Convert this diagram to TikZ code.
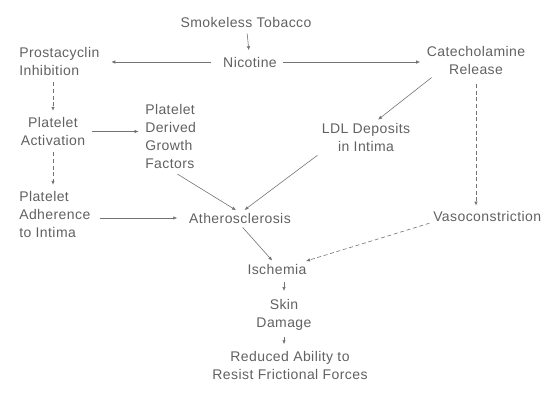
\documentclass[tikz,border=0pt]{standalone}
\usepackage{fontspec}
\setsansfont[LetterSpace=3]{Liberation Sans}
\usepackage{xcolor}
\usetikzlibrary{arrows.meta}

\tikzset{
  txt/.style={inner sep=0.75pt, text=black!62, font=\sffamily\fontsize{10.5}{13.5}\selectfont},
  link/.style={draw=black!55, line width=0.45pt, -{Latex[length=3pt,width=2.6pt]}, shorten <=4pt, shorten >=4pt},
  dlink/.style={link, densely dashed}
}

\begin{document}
\begin{tikzpicture}[x=0.75pt,y=0.75pt,yscale=-1,xscale=1]
        \useasboundingbox (0,0) rectangle (542,401);
        
        % Text Node
        \draw (246,22) node [txt] (smoke) {Smokeless Tobacco};
        % Text Node
        \draw (250,62) node [txt] (nic) {Nicotine};
        % Text Node
        \draw (18,61.5) node [anchor=west][txt][align=left] (prost) {Prostacyclin\\Inhibition};
        % Text Node
        \draw (476,60.5) node [txt][align=center] (cat) {Catecholamine\\Release};
        % Text Node
        \draw (53,131.5) node [txt][align=center] (act) {Platelet\\Activation};
        % Text Node
        \draw (144,136.5) node [anchor=west][txt][align=left] (pdgf) {Platelet\\Derived\\Growth\\Factors};
        % Text Node
        \draw (366,137.5) node [txt][align=center] (ldl) {LDL Deposits\\in Intima};
        % Text Node
        \draw (18,214.5) node [anchor=west][txt][align=left] (adh) {Platelet\\Adherence\\to Intima};
        % Text Node
        \draw (240,218) node [txt] (ath) {Atherosclerosis};
        % Text Node
        \draw (432,216) node [anchor=west][txt] (vaso) {Vasoconstriction};
        % Text Node
        \draw (277,269) node [txt] (isch) {Ischemia};
        % Text Node
        \draw (284,314.5) node [txt][align=center] (skin) {Skin\\Damage};
        % Text Node
        \draw (290,365) node [txt][align=center] (red) {Reduced Ability to\\Resist Frictional Forces};
        
        %Straight Lines
        \draw [link] (smoke) -- (nic) ;
        %Straight Lines
        \draw [link, shorten <=8pt, shorten >=8pt] (nic.west) -- (prost.east |- nic.west) ;
        %Straight Lines
        \draw [link, shorten <=4pt, shorten >=4pt] (nic.east) -- (cat.west |- nic.east) ;
        %Straight Lines
        \draw [link, shorten <=2pt, shorten >=3pt] (cat.200) -- (ldl.60) ;
        %Straight Lines
        \draw [dlink, shorten <=6pt, shorten >=3pt] (cat.south) -- (cat.south |- vaso.north) ;
        %Straight Lines
        \draw [dlink] (act.north |- prost.south) -- (act.north) ;
        %Straight Lines
        \draw [link] (act.east) -- (pdgf.west |- act.east) ;
        %Straight Lines
        \draw [dlink] (act.south) -- (act.south |- adh.north) ;
        %Straight Lines
        \draw [link, shorten <=6pt, shorten >=2pt] (pdgf.south) -- (ath.105) ;
        %Straight Lines
        \draw [link, shorten <=3pt, shorten >=2pt] (ldl.south west) -- (ath.70) ;
        %Straight Lines
        \draw [link, shorten <=6pt, shorten >=8pt] (adh.east |- ath.west) -- (ath.west) ;
        %Straight Lines
        \draw [link, shorten <=3pt, shorten >=2pt] (ath.south) -- (isch.115) ;
        %Straight Lines
        \draw [dlink, shorten <=2pt, shorten >=4pt] (vaso.south west) -- (isch.15) ;
        %Straight Lines
        \draw [link, shorten <=5pt, shorten >=5pt] (isch.south -| skin.north) -- (skin.north) ;
        %Straight Lines
        \draw [link, shorten <=4pt, shorten >=4pt] (skin.south) -- (skin.south |- red.north) ;
        
\end{tikzpicture}
\end{document}
